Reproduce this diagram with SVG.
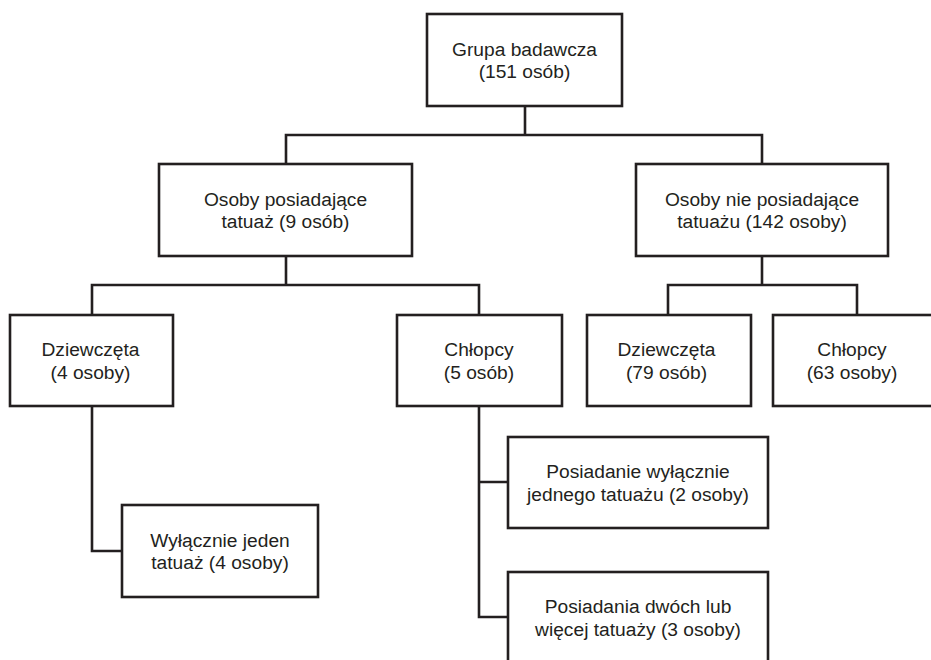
<svg xmlns="http://www.w3.org/2000/svg" width="931" height="660" viewBox="0 0 931 660">
<style>
.box{fill:#fff;stroke:#231f20;stroke-width:2.6}
.ln{fill:none;stroke:#231f20;stroke-width:2.6;stroke-linecap:square}
text{font-family:"Liberation Sans",Arial,sans-serif;font-size:19.2px;fill:#231f20;text-anchor:middle}
</style>
<rect width="931" height="660" fill="#fff"/>
<g id="connectors">
<path class="ln" d="M525,106V135M286,135H762M286,135V164M762,135V164"/>
<path class="ln" d="M286,256V285M92,285H479M92,285V315M479,285V315"/>
<path class="ln" d="M762,256V285M668,285H857M668,285V315M857,285V315"/>
<path class="ln" d="M92,406V551H122"/>
<path class="ln" d="M479,406V617H508M479,482H508"/>
</g>
<g id="n-grupa"><rect class="box" x="427" y="14" width="195" height="92"/><text><tspan x="524.5" y="55.5">Grupa badawcza</tspan><tspan x="524.5" dy="22.6">(151 osób)</tspan></text></g>
<g id="n-posiadajace"><rect class="box" x="159" y="164" width="253" height="92"/><text><tspan x="285.5" y="205.5">Osoby posiadające</tspan><tspan x="285.5" dy="22.6">tatuaż (9 osób)</tspan></text></g>
<g id="n-nieposiadajace"><rect class="box" x="636" y="164" width="252" height="92"/><text><tspan x="762" y="205.5">Osoby nie posiadające</tspan><tspan x="762" dy="22.6">tatuażu (142 osoby)</tspan></text></g>
<g id="n-dz4"><rect class="box" x="10" y="315" width="163" height="91"/><text><tspan x="90.5" y="356">Dziewczęta</tspan><tspan x="90.5" dy="22.6">(4 osoby)</tspan></text></g>
<g id="n-ch5"><rect class="box" x="397" y="315" width="165" height="91"/><text><tspan x="479" y="356">Chłopcy</tspan><tspan x="479" dy="22.6">(5 osób)</tspan></text></g>
<g id="n-dz79"><rect class="box" x="587" y="315" width="164" height="91"/><text><tspan x="666.5" y="356">Dziewczęta</tspan><tspan x="666.5" dy="22.6">(79 osób)</tspan></text></g>
<g id="n-ch63"><rect class="box" x="773" y="315" width="162" height="91"/><text><tspan x="852" y="356">Chłopcy</tspan><tspan x="852" dy="22.6">(63 osoby)</tspan></text></g>
<g id="n-wylacznie"><rect class="box" x="122" y="505" width="196" height="92"/><text><tspan x="220" y="546.5">Wyłącznie jeden</tspan><tspan x="220" dy="22.6">tatuaż (4 osoby)</tspan></text></g>
<g id="n-jeden"><rect class="box" x="508" y="437" width="260" height="91"/><text><tspan x="638" y="478">Posiadanie wyłącznie</tspan><tspan x="638" dy="22.6">jednego tatuażu (2 osoby)</tspan></text></g>
<g id="n-dwa"><rect class="box" x="508" y="572" width="260" height="91"/><text><tspan x="638" y="613">Posiadania dwóch lub</tspan><tspan x="638" dy="22.6">więcej tatuaży (3 osoby)</tspan></text></g>
</svg>
